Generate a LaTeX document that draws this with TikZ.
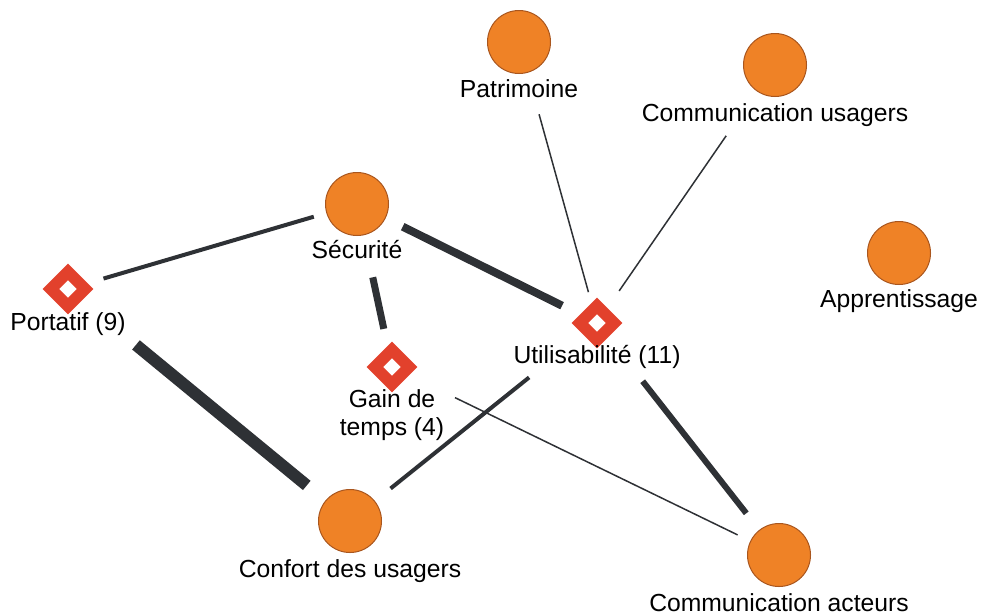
\documentclass[tikz,border=0pt]{standalone}
\usepackage{fontspec}
\setmainfont{Liberation Sans}

\definecolor{orng}{HTML}{EF8226}
\definecolor{orngline}{HTML}{A9561E}
\definecolor{critred}{HTML}{E2412C}
\definecolor{linkgray}{HTML}{2E3135}

\begin{document}
\begin{tikzpicture}[x=1pt,y=-1pt,font=\fontsize{24.7}{28}\selectfont,
 theme/.style={circle,fill=orng,draw=orngline,line width=1pt,minimum size=63pt,inner sep=0pt},
 crit/.style={rectangle,rotate=45,fill=white,draw=critred,line width=11.65pt,minimum size=24.35pt,inner sep=0pt},
 lbl/.style={anchor=base,align=center,inner sep=0pt},
 link/.style={draw=linkgray,line cap=butt}]
\useasboundingbox (0,0) rectangle (981,611);
% themes
\node[theme] (pat) at (519,42) {};
\node[theme] (comu) at (775,65) {};
\node[theme] (secu) at (357,204) {};
\node[theme] (appr) at (899,253) {};
\node[theme] (conf) at (350,521) {};
\node[theme] (coma) at (779,555) {};
% criteria
\node[crit] (port) at (68,289) {};
\node[crit] (gain) at (392,367) {};
\node[crit] (util) at (597,323) {};
% labels
\node[lbl] (pat-l) at (519,97) {Patrimoine};
\node[lbl] (comu-l) at (775,121) {Communication usagers};
\node[lbl] (secu-l) at (357,258) {Sécurité};
\node[lbl] (appr-l) at (899,307) {Apprentissage};
\node[lbl] (conf-l) at (350,577) {Confort des usagers};
\node[lbl] (coma-l) at (779,611) {Communication acteurs};
\node[lbl] (port-l) at (68,330) {Portatif (9)};
\node[lbl] (gain-l) at (392,435) {Gain de\\temps (4)};
\node[lbl] (util-l) at (597,363) {Utilisabilité (11)};
% links
\draw[link,line width=4pt,shorten <=37pt,shorten >=45pt] (port.center) -- (secu.center);
\draw[link,line width=8pt,shorten <=51pt,shorten >=39pt] (secu.center) -- (util.center);
\draw[link,line width=7pt,shorten <=75pt,shorten >=39pt] (secu.center) -- (gain.center);
\draw[link,line width=12pt,shorten <=88pt,shorten >=56pt] (port.center) -- (conf.center);
\draw[link,line width=1.5pt,shorten <=75pt,shorten >=32pt] (pat.center) -- (util.center);
\draw[link,line width=1.5pt,shorten <=86pt,shorten >=39pt] (comu.center) -- (util.center);
\draw[link,line width=4pt,shorten <=87pt,shorten >=52pt] (util.center) -- (conf.center);
\draw[link,line width=6pt,shorten <=74pt,shorten >=53pt] (util.center) -- (coma.center);
\draw[link,line width=1.5pt,shorten <=70pt,shorten >=46pt] (gain.center) -- (coma.center);
\end{tikzpicture}
\end{document}
